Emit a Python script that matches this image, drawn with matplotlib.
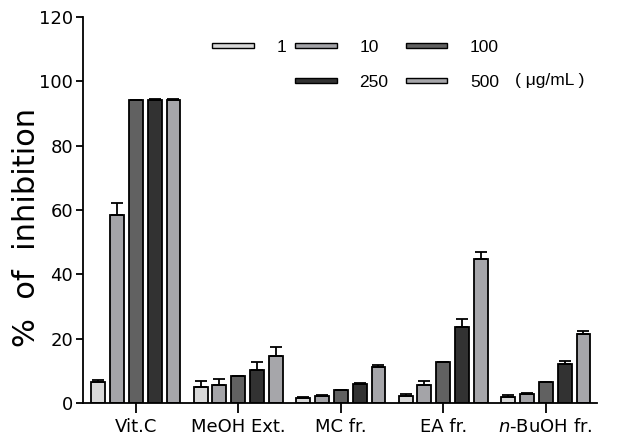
import matplotlib
matplotlib.use("Agg")
import matplotlib.pyplot as plt
import numpy as np
from matplotlib.patches import Patch, Rectangle
from matplotlib.legend_handler import HandlerPatch

matplotlib.rcParams["font.family"] = "DejaVu Sans"
matplotlib.rcParams["mathtext.fontset"] = "dejavusans"

# Data
samples = ["Vit.C", "MeOH Ext.", "MC fr.", "EA fr.", r"$\it{n}$-BuOH fr."]
doses = ["1", "10", "100", "250", "500"]

inh_1 = [6.4, 5.0, 1.6, 2.2, 1.9]
inh_10 = [58.3, 5.7, 2.3, 5.5, 2.8]
inh_100 = [94.1, 8.5, 3.9, 12.8, 6.4]
inh_250 = [94.2, 10.3, 5.9, 23.5, 12.1]
inh_500 = [94.2, 14.7, 11.1, 44.9, 21.4]

err_1 = [0.8, 1.7, 0.3, 0.5, 0.6]
err_10 = [4.0, 1.9, 0.2, 1.2, 0.4]
err_100 = [0.2, 0.0, 0.0, 0.0, 0.0]
err_250 = [0.3, 2.3, 0.3, 2.5, 0.9]
err_500 = [0.2, 2.8, 0.7, 1.9, 1.0]

colors = ["#d8d8d8", "#a4a4a8", "#616161", "#323232", "#a6a6aa"]

values = [inh_1, inh_10, inh_100, inh_250, inh_500]
errors = [err_1, err_10, err_100, err_250, err_500]

fig = plt.figure(figsize=(6.17, 4.42), dpi=100)
ax = fig.add_axes([0.1345, 0.0882, 0.8331, 0.8733])

x = np.arange(len(samples))
step = 0.184
width = 0.136

for i, (vals, errs, col) in enumerate(zip(values, errors, colors)):
    pos = x + (i - 2) * step
    ax.bar(pos, vals, width=width, color=col, edgecolor="black", linewidth=1.3, zorder=2)
    errs = np.array(errs)
    ax.errorbar(pos, vals, yerr=[np.zeros_like(errs), errs], fmt="none",
                ecolor="black", elinewidth=1.3, capsize=4, capthick=1.3, zorder=3)

ax.set_xlim(-0.515, 4.5)
ax.set_ylim(0, 120)
ax.set_yticks(np.arange(0, 121, 20))
ax.set_xticks(x)
ax.set_xticklabels(samples, fontsize=13)
ax.tick_params(axis="y", labelsize=13, length=5, width=1.3, pad=2)
ax.tick_params(axis="x", length=7, width=1.3, pad=4)
for s in ["top", "right"]:
    ax.spines[s].set_visible(False)
for s in ["left", "bottom"]:
    ax.spines[s].set_linewidth(1.3)

ax.set_ylabel("%  of  inhibition", fontsize=22)
ax.yaxis.set_label_coords(-0.082, 0.456)


# thin flat legend keys, centred on the text line
def thin_key(legend, orig_handle, xdescent, ydescent, width, height, fontsize):
    h = 0.26 * fontsize
    return Rectangle((-xdescent, -ydescent + (height - h) / 2), width, h)


hmap = {Patch: HandlerPatch(patch_func=thin_key)}
handles = [Patch(facecolor=c, edgecolor="black", linewidth=1) for c in colors]
leg_kw = dict(frameon=False, loc="upper left", bbox_transform=fig.transFigure,
              borderpad=0, borderaxespad=0, handlelength=2.4, handletextpad=1.3,
              labelspacing=1.15, handler_map=hmap,
              prop={"family": "Liberation Sans", "size": 12.5})

# first column only holds "1"; the other four sit in a 2x2 block
leg1 = ax.legend([handles[0]], [doses[0]], bbox_to_anchor=(212 / 617, 1 - 39.5 / 442), **leg_kw)
ax.add_artist(leg1)
ax.legend([handles[1], handles[3], handles[2], handles[4]],
          [doses[1], doses[3], doses[2], doses[4]], ncol=2, columnspacing=1.0,
          bbox_to_anchor=(295 / 617, 1 - 39.5 / 442), **leg_kw)
fig.text(515 / 617, 1 - 80 / 442, "( μg/mL )", fontsize=12.5, family="Liberation Sans",
         va="center", ha="left")

fig.savefig("out.png", dpi=100)
